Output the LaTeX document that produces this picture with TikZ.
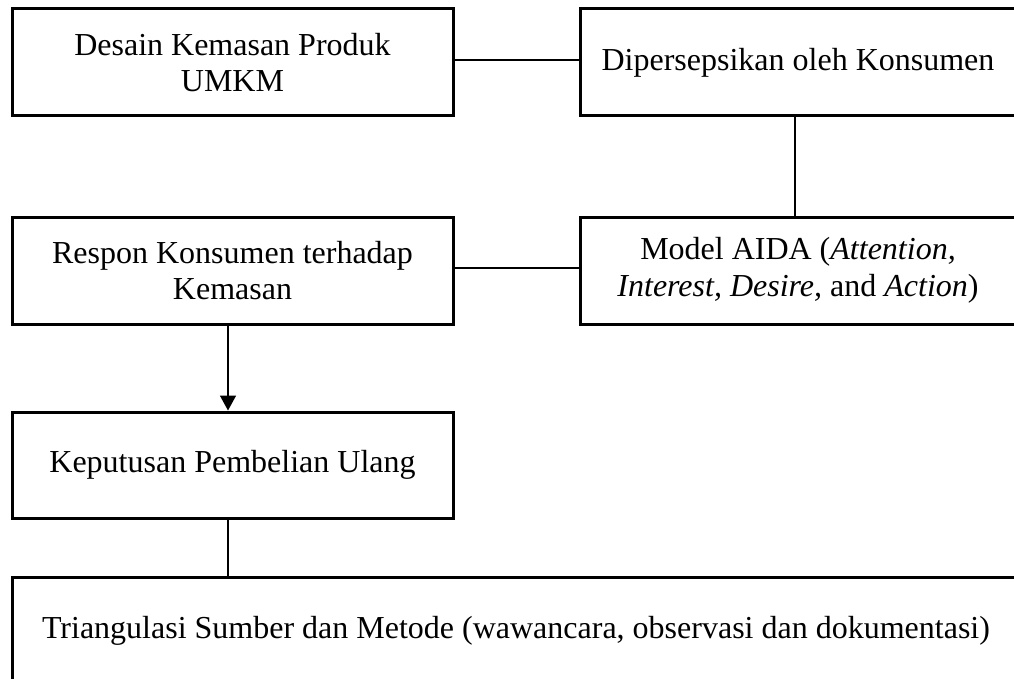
\documentclass[tikz,border=0pt]{standalone}
\usepackage{fontspec}
\setmainfont{Liberation Serif}
\usetikzlibrary{arrows.meta}
\begin{document}
\begin{tikzpicture}[x=1pt,y=-1pt,
  box/.style={draw, line width=3pt, rectangle, align=center, inner sep=0pt,
    font=\fontsize{32}{36.5}\selectfont},
  conn/.style={line width=1.6pt},
  arr/.style={line width=1.6pt, -{Triangle[width=16pt,length=15pt]}}]
\clip (0,0) rectangle (1014,679);
\useasboundingbox (0,0) rectangle (1014,679);
\fill[white] (0,0) rectangle (1014,679);
\node[box, minimum width=441pt, minimum height=107pt] (b1) at (232.5,62.5) {Desain Kemasan Produk\\UMKM};
\node[box, minimum width=436pt, minimum height=107pt] (b2) at (798,62.5) {Dipersepsikan oleh Konsumen};
\node[box, minimum width=441pt, minimum height=107pt] (b3) at (232.5,270.5) {Respon Konsumen terhadap\\Kemasan};
\node[box, minimum width=436pt, minimum height=107pt] (b4) at (798,270.5) {Model AIDA (\textit{Attention,}\\\textit{Interest, Desire,} and \textit{Action})};
\node[box, minimum width=441pt, minimum height=106pt] (b5) at (232.5,465) {Keputusan Pembelian Ulang};
\node[box, minimum width=1008pt, minimum height=108pt] (b6) at (516,631) {Triangulasi Sumber dan Metode (wawancara, observasi dan dokumentasi)};
\coordinate (c5) at ([xshift=-4.5pt]b5.south);
\draw[conn] ([yshift=2.5pt]b1.east) -- ([yshift=2.5pt]b2.west);
\draw[conn] ([xshift=-3pt]b2.south) -- ([xshift=-3pt]b4.north);
\draw[conn] ([yshift=2.5pt]b3.east) -- ([yshift=2.5pt]b4.west);
\draw[arr] ([xshift=-4.5pt]b3.south) -- ([xshift=-4.5pt]b5.north);
\draw[conn] (c5) -- (c5 |- b6.north);
\end{tikzpicture}
\end{document}
